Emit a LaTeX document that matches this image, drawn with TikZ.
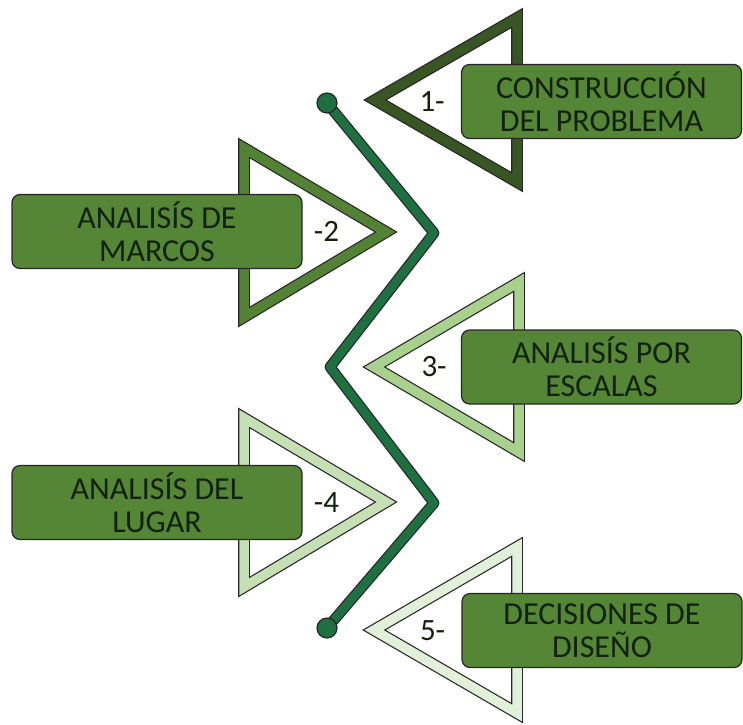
\documentclass[tikz,border=0pt]{standalone}
\usepackage{fontspec}
\setmainfont{Carlito}
\usetikzlibrary{positioning}

\definecolor{greenA}{HTML}{375623}
\definecolor{greenB}{HTML}{548235}
\definecolor{greenC}{HTML}{A9D18E}
\definecolor{greenD}{HTML}{C5E0B4}
\definecolor{greenE}{HTML}{E2F0D9}
\definecolor{boxgreen}{HTML}{558636}
\definecolor{zigreen}{HTML}{1E7040}
\definecolor{edge}{HTML}{262626}
\definecolor{ink}{HTML}{12200C}

\begin{document}
\begin{tikzpicture}[x=1pt, y=-1pt,
  tri/.style={draw=edge, line width=1.2pt, double distance=9.5pt, line join=miter},
  box/.style={draw=edge, line width=1.2pt, fill=boxgreen, rounded corners=8pt,
    minimum width=280pt, minimum height=74pt, inner sep=0pt, align=center,
    text=ink, font=\fontsize{32}{33}\selectfont},
  lbl/.style={inner sep=0pt, text=ink, font=\fontsize{31}{33}\selectfont},
  zig/.style={draw=edge, line width=1.2pt, double=zigreen, double distance=8.5pt, line join=round},
  dot/.style={circle, draw=edge, line width=1.2pt, fill=zigreen, minimum size=20pt, inner sep=0pt}]
\useasboundingbox (0,0) rectangle (743,724);

% Triangles
\draw[tri, double=greenA] (375,100) -- (517,18) -- (517,182) -- cycle;
\draw[tri, double=greenB] (244,148) -- (386,232) -- (244,317) -- cycle;
\draw[tri, double=greenC] (374,367) -- (519,282) -- (519,452) -- cycle;
\draw[tri, double=greenD] (244,418) -- (386,502) -- (244,587) -- cycle;
\draw[tri, double=greenE] (374,630) -- (517,547) -- (517,713) -- cycle;

% Boxes
\node[box] (constr) at (601.5,101.5) {CONSTRUCCIÓN\\DEL PROBLEMA};
\node[box, minimum width=290pt] (marcos) at (157,231.5) {ANALISÍS DE\\MARCOS};
\node[box] (escalas) at (601.5,367) {ANALISÍS POR\\ESCALAS};
\node[box, minimum width=290pt] (lugar) at (157,502.5) {ANALISÍS DEL\\LUGAR};
\node[box] (diseno) at (602,630.5) {DECISIONES DE\\DISEÑO};

% Labels
\node[lbl, left=16pt of constr] (n1) {1-};
\node[lbl, right=11pt of marcos] (n2) {-2};
\node[lbl, left=14pt of escalas] (n3) {3-};
\node[lbl, right=11pt of lugar] (n4) {-4};
\node[lbl, left=16pt of diseno] (n5) {5-};

% Zigzag
\coordinate (ztop) at (327,103);
\coordinate (z2) at (434,233);
\coordinate (z3) at (330,367);
\coordinate (z4) at (434,503);
\coordinate (zbot) at (327,628);
\draw[zig] (ztop) -- (z2) -- (z3) -- (z4) -- (zbot);
\node[dot] (dtop) at (ztop) {};
\node[dot] (dbot) at (zbot) {};
\end{tikzpicture}
\end{document}
